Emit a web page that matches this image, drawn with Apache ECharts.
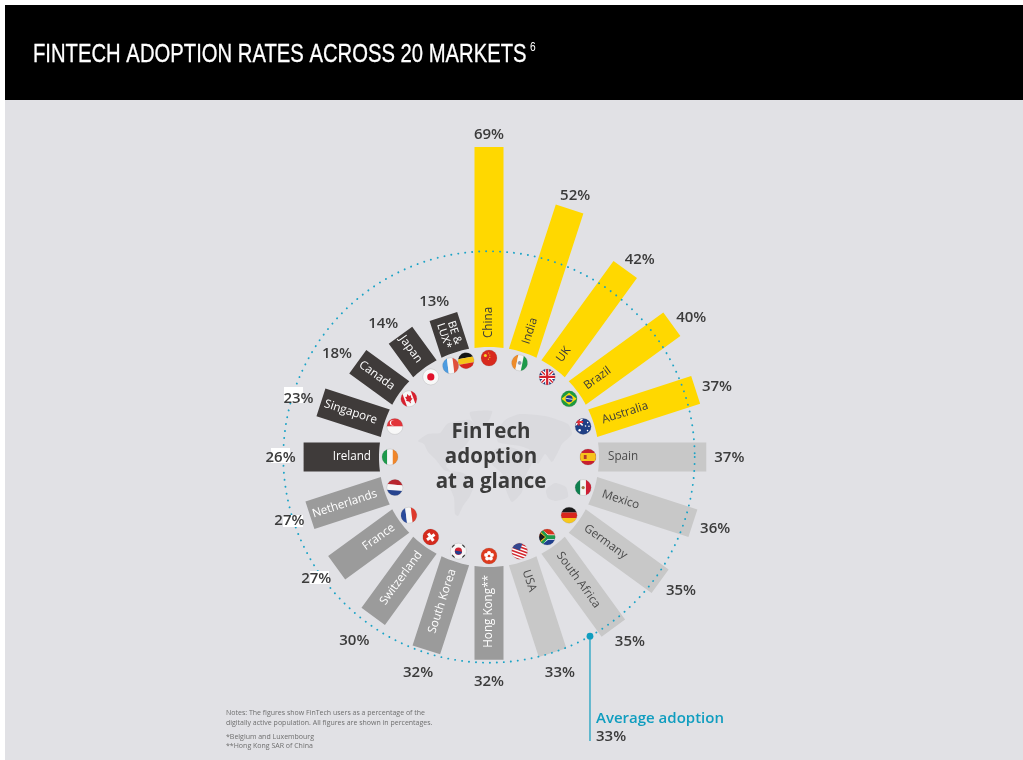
<!DOCTYPE html>
<html>
<head>
<meta charset="utf-8">
<style>html,body{margin:0;padding:0;background:#fff}#c{width:1023px;height:760px}</style>
<script src="https://cdn.jsdelivr.net/npm/echarts@6/dist/echarts.min.js"></script>
</head>
<body>
<div id="c"></div>
<script>
// ---- data ----
const countries = ['China','India','UK','Brazil','Australia','Spain','Mexico','Germany','South Africa','USA','Hong Kong**','South Korea','Switzerland','France','Netherlands','Ireland','Singapore','Canada','Japan','BE &\nLUX*'];
const adoption  = [69,52,42,40,37,37,36,35,35,33,32,32,30,27,27,26,23,18,14,13];
const tier      = [0,0,0,0,0,1,1,1,1,1,2,2,2,2,2,3,3,3,3,3];
const averageAdoption = 33;
// ---- layout / style ----
const labelGap  = [13,15,17,20,21.5,23,22.6,22,20,20,21,23,30,22.6,21,23,23,22,20,18];
const labelTilt = [0,.2,1.3,1.3,.7,0,-.6,-1.3,-1.5,-.3,0,.3,.4,1,.5,0,-.6,-1.6,-2.3,-1.3];
const tierFill = ['#FFD800','#C8C8C8','#9B9B9B','#3F3B3A'];
const tierText = ['#3a3a3a','#4a4a4a','#ffffff','#ffffff'];
const BAR_W = 29, FONT = '"Open Sans", sans-serif';

// flag drawing primitives (local units, radius 8)
const R=(x,y,w,h,c)=>({type:'rect',shape:{x,y,width:w,height:h},style:{fill:c}});
const C=(cx,cy,r,c)=>({type:'circle',shape:{cx,cy,r},style:{fill:c}});
const L=(pts,c,w)=>({type:'polyline',shape:{points:pts},style:{stroke:c,lineWidth:w,fill:'none'}});
const P=(pts,c)=>({type:'polygon',shape:{points:pts},style:{fill:c}});
const hBands=(a,b,c)=>[R(-9,-9,18,6.2,a),R(-9,-2.8,18,5.6,b),R(-9,2.8,18,6.2,c)];
const vBands=(a,b,c)=>[R(-9,-9,6.2,18,a),R(-2.8,-9,5.6,18,b),R(2.8,-9,6.2,18,c)];
const flags = {
 'China':{c:[R(-9,-9,18,18,'#D8291E'),C(-3.6,-2.6,1.5,'#F6D32B'),C(-.4,-5,.6,'#F6D32B'),C(.8,-3,.6,'#F6D32B'),C(.8,-.6,.6,'#F6D32B'),C(-.6,1.2,.6,'#F6D32B')]},
 'India':{rot:-.2,c:[...vBands('#EE8C2A','#F4F4F2','#1E9A4B'),C(0,0,1.9,'#8E9BB0')]},
 'UK':{c:[R(-9,-9,18,18,'#24387C'),L([[-9,-9],[9,9]],'#fff',3.6),L([[-9,9],[9,-9]],'#fff',3.6),L([[-9,-9],[9,9]],'#D3202E',1.3),L([[-9,9],[9,-9]],'#D3202E',1.3),L([[0,-9],[0,9]],'#fff',4),L([[-9,0],[9,0]],'#fff',4),L([[0,-9],[0,9]],'#D3202E',2.2),L([[-9,0],[9,0]],'#D3202E',2.2)]},
 'Brazil':{c:[R(-9,-9,18,18,'#1C9A3E'),P([[-7.6,0],[0,-6],[7.6,0],[0,6]],'#F5D90F'),C(0,0,3.5,'#1D3F8F'),L([[-3.4,-.6],[3.4,.6]],'#fff',.8)]},
 'Australia':{c:[R(-9,-9,18,18,'#1F3F85'),R(-9,-9,9,8,'#24387C'),L([[-8,-8],[-.5,-1]],'#fff',1.6),L([[-8,-1],[-.5,-8]],'#fff',1.6),L([[-4.5,-9],[-4.5,-1]],'#E0303A',2),L([[-9,-4.5],[0,-4.5]],'#E0303A',2),C(-3.5,3.8,1.2,'#fff'),C(4.5,-3.8,.8,'#fff'),C(2.4,-.4,.8,'#fff'),C(5.8,-.2,.8,'#fff'),C(4.4,4.2,.8,'#fff')]},
 'Spain':{c:[R(-9,-9,18,18,'#C8202F'),R(-9,-4,18,8,'#F6C21C'),R(-4.2,-2,2.8,4,'#B5382A')]},
 'Mexico':{c:[...vBands('#0F7F4F','#F4F4F2','#CE1F33'),C(0,0,1.6,'#9B7A45')]},
 'Germany':{c:hBands('#1a1a1a','#D8261C','#F7C81C')},
 'South Africa':{c:[R(-9,-9,18,9,'#D8341E'),R(-9,0,18,9,'#1F3F8E'),P([[-9,-7],[0,0],[-9,7]],'#1C1C1C'),L([[-9,-6.5],[-1,-.0],[-9,6.5]],'#F4C81E',1.3),L([[-8,-9],[1,-2],[9,-2]],'#fff',1.1),L([[-8,9],[1,2],[9,2]],'#fff',1.1),L([[-8,-9],[.5,0],[-8,9]],'#1E9A4B',2.6),L([[0,0],[9,0]],'#1E9A4B',3.6)]},
 'USA':{rot:-.35,c:[R(-9,-9,18,18,'#fff'),R(-9,-7.8,18,1.5,'#D3282F'),R(-9,-4.8,18,1.5,'#D3282F'),R(-9,-1.8,18,1.5,'#D3282F'),R(-9,1.2,18,1.5,'#D3282F'),R(-9,4.2,18,1.5,'#D3282F'),R(-9,7.2,18,1.5,'#D3282F'),R(-9,-9,9,8.2,'#33478F')]},
 'Hong Kong**':{c:[R(-9,-9,18,18,'#DE3A1E'),C(0,-3,2,'#fff'),C(2.9,-.9,2,'#fff'),C(1.8,2.4,2,'#fff'),C(-1.8,2.4,2,'#fff'),C(-2.9,-.9,2,'#fff'),C(0,0,.9,'#DE3A1E')]},
 'South Korea':{c:[R(-9,-9,18,18,'#F6F6F6'),C(0,0,3.6,'#D3202E'),P([[-3.5,-.7],[3.5,.7],[3.2,2],[0,3.7],[-3,2]],'#1F3F8E'),L([[-6.6,-4],[-4,-6.6]],'#333',1.6),L([[6.6,-4],[4,-6.6]],'#333',1.6),L([[-6.6,4],[-4,6.6]],'#333',1.6),L([[6.6,4],[4,6.6]],'#333',1.6)]},
 'Switzerland':{rot:.6,c:[R(-9,-9,18,18,'#D52B1E'),R(-4.6,-1.5,9.2,3,'#fff'),R(-1.5,-4.6,3,9.2,'#fff')]},
 'France':{rot:.12,c:vBands('#2B4B9B','#F6F6F6','#DE3A2C')},
 'Netherlands':{rot:-.08,c:hBands('#B8262E','#F6F6F6','#27448F')},
 'Ireland':{c:vBands('#1E9A4B','#F6F6F6','#F0862A')},
 'Singapore':{c:[R(-9,-9,18,9,'#E2343A'),R(-9,0,18,9,'#F8F8F8'),C(-2.4,-3.6,2.6,'#fff'),C(-1.3,-3.6,2.5,'#E2343A')]},
 'Canada':{rot:.35,c:[R(-9,-9,18,18,'#F6F6F6'),R(-9,-9,4.6,18,'#D8202E'),R(4.4,-9,4.6,18,'#D8202E'),P([[0,-5],[1.2,-2.6],[3,-3],[2.4,.4],[3.6,.8],[.5,3],[.5,4.6],[-.5,4.6],[-.5,3],[-3.6,.8],[-2.4,.4],[-3,-3],[-1.2,-2.6]],'#D8202E')]},
 'Japan':{c:[R(-9,-9,18,18,'#F8F8F8'),C(0,0,3.6,'#E0102A')]},
 'Lux':{rot:.12,c:vBands('#4C9BE0','#F6F6F6','#E0503C')},
 'BE':{rot:.18,c:hBands('#151515','#F5C518','#D8261C')}
};

function centre(params){ return [params.coordSys.cx, params.coordSys.cy]; }
function polarPoint(params, api, value, idx, extraPx, tiltDeg){
  const p = api.coord([value, idx]), c = centre(params);
  const a = Math.atan2(p[0]-c[0], c[1]-p[1]) + (tiltDeg||0)*Math.PI/180;
  const r = p[2] + (extraPx||0);
  return [c[0]+r*Math.sin(a), c[1]-r*Math.cos(a), a];
}

function renderBar(params, api){
  const i = params.dataIndex, v = api.value(0), c = centre(params);
  const r0 = api.coord([0,i])[2], end = api.coord([v,i])[2];
  const th = i*Math.PI*2/countries.length;
  const u = [Math.sin(th),-Math.cos(th)], n = [Math.cos(th),Math.sin(th)];
  const hw = BAR_W/2, pts = [];
  pts.push([c[0]+u[0]*end+n[0]*hw, c[1]+u[1]*end+n[1]*hw]);
  pts.push([c[0]+u[0]*end-n[0]*hw, c[1]+u[1]*end-n[1]*hw]);
  for(let k=-6;k<=6;k++){
    const t = k/6*hw, h = Math.sqrt(r0*r0-t*t);
    pts.push([c[0]+u[0]*h+n[0]*t, c[1]+u[1]*h+n[1]*t]);
  }
  const deg = i*360/countries.length, right = deg < 180;
  const rot = -((right?deg-90:deg-270))*Math.PI/180;
  const two = countries[i].indexOf('\n')>=0;
  const ar = two ? r0+19 : (right? r0+9 : r0+8);
  const t = tierText[tier[i]];
  return {type:'group',children:[
    {type:'polygon',shape:{points:pts},style:{fill:tierFill[tier[i]]}},
    {type:'text',x:c[0]+u[0]*ar,y:c[1]+u[1]*ar,rotation:rot,style:{
      text:countries[i],fill:t,font:(two?'11px ':'11.7px ')+FONT,lineHeight:11,
      align:two?'center':(right?'left':'right'),verticalAlign:'middle'}}
  ]};
}
function flagEl(name,x,y){
  const f = flags[name];
  return {type:'group',x,y,children:[
    {type:'group',rotation:f.rot||0,clipPath:{type:'circle',shape:{cx:0,cy:0,r:8}},children:f.c},
    {type:'circle',shape:{cx:0,cy:0,r:8},style:{fill:'none',stroke:'rgba(90,90,90,.25)',lineWidth:.6}}
  ]};
}
function renderFlag(params, api){
  const i = params.dataIndex, name = countries[i];
  if(name.indexOf('BE')===0){
    const a = polarPoint(params,api,0,i,-11,-4.8), b = polarPoint(params,api,0,i,-11,4.6);
    return {type:'group',children:[flagEl('Lux',a[0],a[1]),flagEl('BE',b[0],b[1])]};
  }
  const p = polarPoint(params,api,0,i,-11,0);
  return flagEl(name,p[0],p[1]);
}
function renderPct(params, api){
  const i = params.dataIndex, p = polarPoint(params,api,api.value(0),i,labelGap[i],labelTilt[i]);
  return {type:'text',x:p[0],y:p[1]+1,style:{text:api.value(0)+'%',fill:'#3b3b3b',font:'600 15px '+FONT,align:'center',verticalAlign:'middle'}};
}
function renderRing(params, api){
  const c = centre(params), r = api.coord([api.value(0),0])[2];
  return {type:'circle',shape:{cx:c[0],cy:c[1],r},style:{fill:'none',stroke:'#1BA3C6',lineWidth:1.9,lineDash:[0.1,6.9],lineCap:'round'}};
}
function renderCallout(params, api){
  const p = polarPoint(params,api,api.value(0),0,0,150.6);
  return {type:'group',children:[
    {type:'line',shape:{x1:p[0],y1:p[1],x2:p[0],y2:741},style:{stroke:'#0F9DBF',lineWidth:1.2}},
    {type:'circle',shape:{cx:p[0],cy:p[1],r:3.4},style:{fill:'#0F9DBF'}}
  ]};
}

const mapFill = '#DADADE';
const world = [
 [[418,441],[428,434],[440,433],[447,424],[458,421],[470,420],[478,428],[472,436],[466,445],[458,452],[452,458],[446,466],[451,472],[444,470],[436,460],[428,452],[424,444]],
 [[470,412],[492,411],[488,422],[478,428],[472,420]],
 [[452,472],[463,473],[474,483],[470,496],[463,506],[458,516],[455,514],[454,498],[449,484]],
 [[497,432],[505,420],[520,414],[545,416],[568,424],[572,434],[562,444],[558,452],[552,462],[545,454],[538,464],[530,450],[520,446],[506,444],[498,442]],
 [[494,450],[510,447],[522,452],[532,462],[526,475],[522,492],[512,502],[506,490],[502,474],[492,464]],
 [[546,490],[555,483],[566,487],[568,497],[556,501],[548,498]]
];
const patches = [[284,387,19,16],[271,448,19,15],[283,515,20,12],[310,571,19,13]];

const barData = adoption.map((v,i)=>[v,countries[i]]);
const base = {type:'custom',coordinateSystem:'polar',silent:true,animation:false,clip:false,encode:{radius:0,angle:1}};
const TITLE_FONT = '"Liberation Sans", sans-serif';

const chart = echarts.init(document.getElementById('c'),null,{renderer:'canvas'});
chart.setOption({
  animation:false,
  backgroundColor:'#ffffff',
  polar:{center:[489,457],radius:[110,400]},
  radiusAxis:{show:false,min:0,max:100},
  angleAxis:{show:false,type:'category',data:countries,boundaryGap:false,startAngle:90},
  graphic:{elements:[
    {type:'rect',silent:true,z:-3,shape:{x:5,y:100,width:1018,height:660},style:{fill:'#E1E1E5'}},
    {type:'rect',silent:true,z:-2,shape:{x:5,y:5,width:1018,height:95},style:{fill:'#000'}},
    {type:'text',silent:true,z:7,x:33,y:55.5,scaleX:0.81,style:{text:'FINTECH ADOPTION RATES ACROSS 20 MARKETS',fill:'#fff',stroke:'#fff',lineWidth:.3,font:'25px '+TITLE_FONT,align:'left',verticalAlign:'middle'}},
    {type:'text',silent:true,z:7,x:530,y:48,scaleX:0.85,style:{text:'6',fill:'#fff',font:'12px '+TITLE_FONT,align:'left',verticalAlign:'middle'}},
    ...world.map(pts=>({type:'polygon',silent:true,z:-1,shape:{points:pts,smooth:.2},style:{fill:mapFill}})),
    ...patches.map(b=>({type:'rect',silent:true,z:5,shape:{x:b[0],y:b[1],width:b[2],height:b[3]},style:{fill:'#fff'}})),
    {type:'text',silent:true,z:7,x:491,y:457,style:{text:'FinTech\nadoption\nat a glance',fill:'#3b3b3b',font:'700 20.5px '+FONT,lineHeight:25,align:'center',verticalAlign:'middle'}},
    {type:'text',silent:true,z:7,x:596,y:719,style:{text:'Average adoption',fill:'#0F9DBF',font:'600 15px '+FONT,align:'left',verticalAlign:'middle'}},
    {type:'text',silent:true,z:7,x:596,y:737,style:{text:averageAdoption+'%',fill:'#3b3b3b',font:'600 15px '+FONT,align:'left',verticalAlign:'middle'}},
    {type:'text',silent:true,z:7,x:226,y:718,style:{text:'Notes: The figures show FinTech users as a percentage of the\ndigitally active population. All figures are shown in percentages.',fill:'#6e6e6e',font:'7px '+FONT,lineHeight:10,align:'left',verticalAlign:'middle'}},
    {type:'text',silent:true,z:7,x:226,y:741,style:{text:'*Belgium and Luxembourg\n**Hong Kong SAR of China',fill:'#6e6e6e',font:'7px '+FONT,lineHeight:9,align:'left',verticalAlign:'middle'}}
  ]},
  series:[
    {...base,z:2,data:barData,renderItem:renderBar},
    {...base,z:3,data:barData,renderItem:renderFlag},
    {...base,z:4,data:[[averageAdoption,countries[0]]],renderItem:renderRing},
    {...base,z:4,data:[[averageAdoption,countries[0]]],renderItem:renderCallout},
    {...base,z:6,data:barData,renderItem:renderPct}
  ]
});
</script>
</body>
</html>
